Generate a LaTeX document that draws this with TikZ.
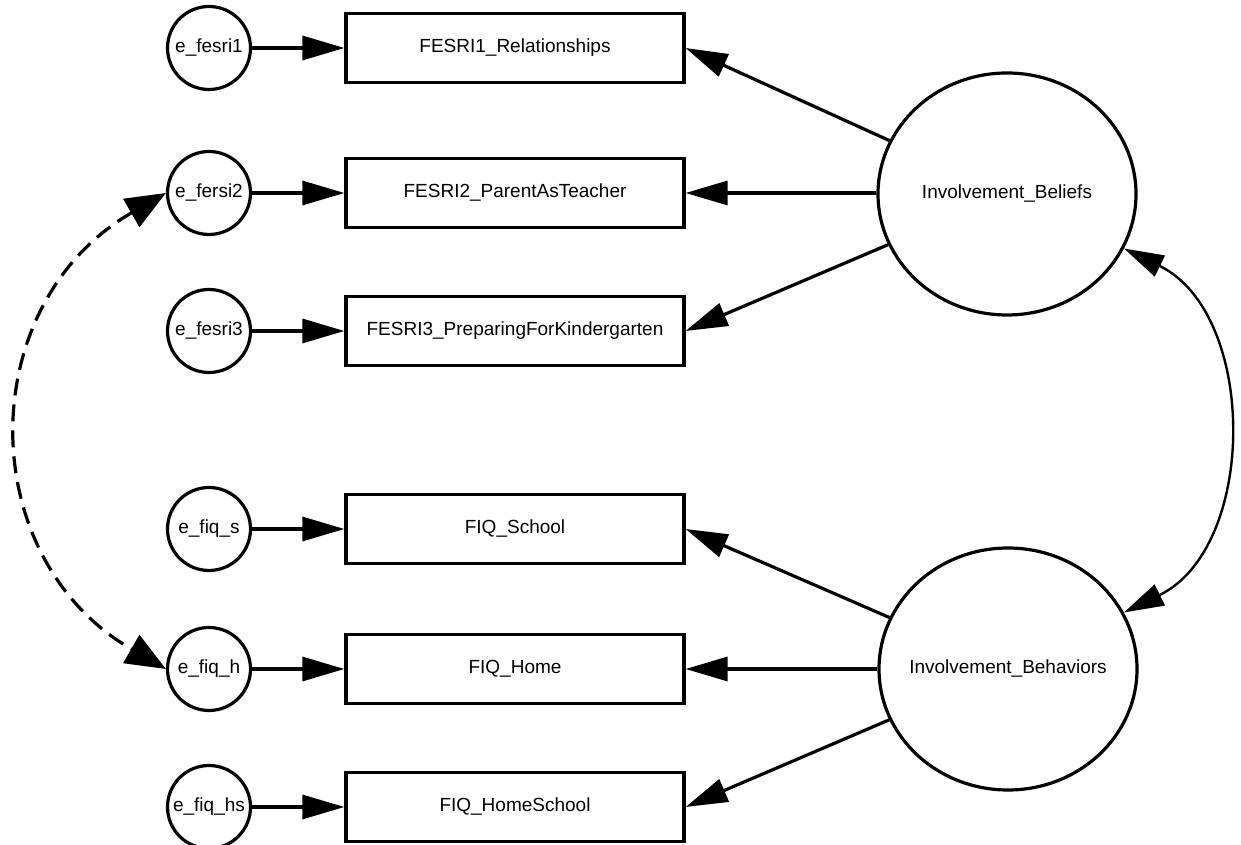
\documentclass[tikz,border=0pt]{standalone}
\usepackage{fontspec}
\setmainfont{Liberation Sans}
\usetikzlibrary{arrows.meta,shapes.geometric}
\tikzset{
  every node/.style={font=\fontsize{19}{22}\selectfont},
  errc/.style={circle,draw,line width=3.2pt,minimum size=83pt,inner sep=0pt},
  obsbox/.style={rectangle,draw,line width=3.2pt,minimum width=338pt,minimum height=69pt,inner sep=0pt},
  latent/.style={ellipse,draw,line width=3.2pt,minimum width=258pt,minimum height=242pt,inner sep=0pt},
  arr/.style={line width=3.2pt,-{Triangle[length=42pt,width=24pt]}},
  covarr/.style={line width=2.4pt,{Triangle[length=40pt,width=23pt]}-{Triangle[length=40pt,width=23pt]}},
  dasharr/.style={line width=3.2pt,dash pattern=on 17pt off 9pt,{Triangle[length=40pt,width=32pt]}-{Triangle[length=40pt,width=32pt]}}
}
\begin{document}
\begin{tikzpicture}[x=1pt,y=1pt]
\useasboundingbox (0,0) rectangle (1241,845);
% error terms
\node[errc] (e1) at (209,797) {e\_fesri1};
\node[errc] (e2) at (209,652) {e\_fersi2};
\node[errc] (e3) at (209,514) {e\_fesri3};
\node[errc] (e4) at (209,316) {e\_fiq\_s};
\node[errc] (e5) at (209,176) {e\_fiq\_h};
\node[errc] (e6) at (209,38) {e\_fiq\_hs};
% observed
\node[obsbox] (b1) at (515,797) {FESRI1\_Relationships};
\node[obsbox] (b2) at (515,652) {FESRI2\_ParentAsTeacher};
\node[obsbox] (b3) at (515,514) {FESRI3\_PreparingForKindergarten};
\node[obsbox] (b4) at (515,316) {FIQ\_School};
\node[obsbox] (b5) at (515,176) {FIQ\_Home};
\node[obsbox] (b6) at (515,38) {FIQ\_HomeSchool};
% latent
\node[latent,label=center:Involvement\_Beliefs] (LB) at (1007,651) {};
\node[latent,label=center:Involvement\_Behaviors] (LH) at (1008,176) {};
% error arrows
\draw[arr] (e1) -- (b1);
\draw[arr] (e2) -- (b2);
\draw[arr] (e3) -- (b3);
\draw[arr] (e4) -- (b4);
\draw[arr] (e5) -- (b5);
\draw[arr] (e6) -- (b6);
% loadings
\draw[arr] (LB) -- (b1.east);
\draw[arr] (LB.west |- b2.east) -- (b2.east);
\draw[arr] (LB) -- (b3.east);
\draw[arr] (LH) -- (b4.east);
\draw[arr] (LH) -- (b5.east);
\draw[arr] (LH) -- (b6.east);
% covariances
\draw[covarr] (LB.-25) to[out=-26,in=26,looseness=1.05] (LH.26);
\draw[dasharr] (e2.west) to[out=210,in=150,looseness=1.2] (e5.west);
\end{tikzpicture}
\end{document}
